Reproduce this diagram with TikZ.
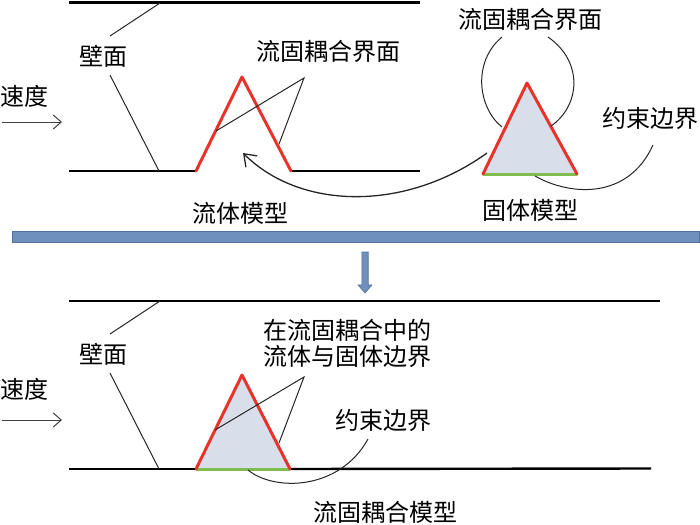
\documentclass[tikz,border=0pt]{standalone}
\usepackage{fontspec}
\setmainfont{Noto Sans CJK SC}
\usetikzlibrary{arrows.meta}
\definecolor{fsired}{HTML}{E8332B}
\definecolor{fsigreen}{HTML}{80BC50}
\definecolor{fsifill}{HTML}{D8DEEA}
\definecolor{barblue}{HTML}{6F8FBC}
\definecolor{barline}{HTML}{4F70A0}
\tikzset{
  wall/.style={line width=2.4pt, black},
  leader/.style={line width=1pt, black!85},
  fsiedge/.style={line width=3pt, fsired, line cap=round, line join=round},
  fixedge/.style={line width=3pt, fsigreen},
  lbl/.style={font=\fontsize{24}{25.5}\selectfont, inner sep=0pt, align=center},
  curvearrow/.style={line width=1.3pt, black!85, -{Straight Barb[length=11pt,width=16pt,line width=1.3pt]}},
  velarrow/.style={line width=1pt, black!75, -{Straight Barb[length=8pt,width=14pt,line width=1pt]}},
}
\begin{document}
\begin{tikzpicture}[x=1pt,y=-1pt]
\useasboundingbox (0,0) rectangle (700,524);
% ---------- top: fluid model ----------
\coordinate (tw1) at (69,2.5);
\coordinate (tw2) at (420,2.5);
\coordinate (bw1) at (69,171);
\coordinate (fl) at (196,171);
\coordinate (fa) at (242,77);
\coordinate (fr) at (291,171);
\coordinate (bw2) at (420,171);
\draw[wall] (tw1) -- (tw2);
\draw[wall] (bw1) -- (fl);
\draw[wall] (fr) -- (bw2);
\draw[fsiedge] (fl) -- (fa) -- (fr);

\node[lbl] (wallA) at (103,56) {壁面};
\coordinate (wA1) at (110,36);
\coordinate (wA2) at (160,3);
\coordinate (wA3) at (110,75);
\coordinate (wA4) at (159,171);
\draw[leader] (wA1) -- (wA2);
\draw[leader] (wA3) -- (wA4);

\node[lbl] (velA) at (25,96) {速度};
\coordinate (vA1) at (2,122);
\coordinate (vA2) at (62,122);
\draw[velarrow] (vA1) -- (vA2);

\node[lbl] (ifA) at (328,51) {流固耦合界面};
\coordinate (iA0) at (304,78);
\coordinate (iA1) at (216,131);
\coordinate (iA2) at (279,144);
\draw[leader] (iA1) -- (iA0) -- (iA2);

\node[lbl] (fluidmodel) at (240,213) {流体模型};

% ---------- top: solid model ----------
\coordinate (sa) at (527,83);
\coordinate (sl) at (483,174);
\coordinate (sr) at (577,174);
\fill[fsifill] (sl) -- (sa) -- (sr) -- cycle;
\draw[fixedge] (sl) -- (sr);
\draw[fsiedge] (sl) -- (sa) -- (sr);

\node[lbl] (ifB) at (530,19) {流固耦合界面};
\coordinate (lp1) at (502,37);
\coordinate (lp2) at (502,127);
\coordinate (rp1) at (548,37);
\coordinate (rp2) at (551,126);
\draw[leader] (lp1) .. controls (472,62) and (478,108) .. (lp2);
\draw[leader] (rp1) .. controls (584,62) and (580,106) .. (rp2);

\node[lbl] (fixA) at (650,118) {约束边界};
\coordinate (fA1) at (653,145);
\coordinate (fA2) at (535,176);
\draw[leader] (fA1) .. controls (628,200) and (570,196) .. (fA2);

\node[lbl] (solidmodel) at (530,210) {固体模型};

\coordinate (ca1) at (487,153);
\coordinate (ca2) at (243,153);
\draw[curvearrow] (ca1) .. controls (405,212) and (300,210) .. (ca2);

% ---------- separator bar and arrow ----------
\coordinate (bar1) at (12.5,231);
\coordinate (bar2) at (699,242);
\draw[barline, fill=barblue, line width=0.8pt] (bar1) rectangle (bar2);
\coordinate (dn) at (365,293);
\draw[barline, fill=barblue, line width=0.6pt]
  (361.8,252) -- (368.2,252) -- (368.2,285) -- (372,285) -- (dn) -- (358,285) -- (361.8,285) -- cycle;

% ---------- bottom: coupled model ----------
\coordinate (tw3) at (69,301);
\coordinate (tw4) at (660,301);
\coordinate (bw3) at (69,469);
\coordinate (cl) at (196,469);
\coordinate (ca) at (242,375);
\coordinate (cr) at (290,469);
\coordinate (bw4) at (651,468.5);
\draw[wall] (tw3) -- (tw4);
\fill[fsifill] (cl) -- (ca) -- (cr) -- cycle;
\draw[wall] (bw3) -- (cl);
\draw[wall] (cr) -- (bw4);
\draw[fixedge] (cl) -- (cr);
\draw[fsiedge] (cl) -- (ca) -- (cr);

\node[lbl] (wallB) at (103,354) {壁面};
\coordinate (wB1) at (110,334);
\coordinate (wB2) at (160,301);
\coordinate (wB3) at (110,373);
\coordinate (wB4) at (159,469);
\draw[leader] (wB1) -- (wB2);
\draw[leader] (wB3) -- (wB4);

\node[lbl] (velB) at (25,389) {速度};
\coordinate (vB1) at (2,420);
\coordinate (vB2) at (62,420);
\draw[velarrow] (vB1) -- (vB2);

\node[lbl] (ifC) at (347,343.5) {在流固耦合中的\\流体与固体边界};
\coordinate (iC0) at (304,377);
\coordinate (iC1) at (215,430);
\coordinate (iC2) at (279,443);
\draw[leader] (iC1) -- (iC0) -- (iC2);

\node[lbl] (fixB) at (383,420) {约束边界};
\coordinate (fB1) at (368,439);
\coordinate (fB2) at (248,470);
\draw[leader] (fB1) .. controls (340,490) and (275,492) .. (fB2);

\node[lbl] (coupledmodel) at (385,512) {流固耦合模型};
\end{tikzpicture}
\end{document}
